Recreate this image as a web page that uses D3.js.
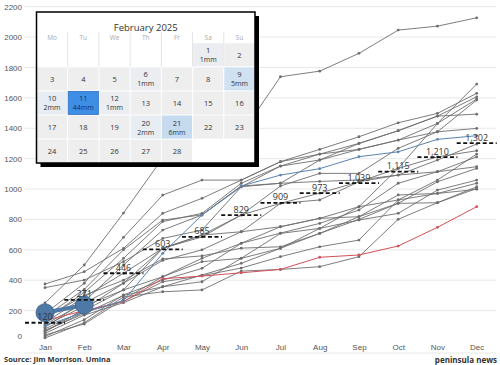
<!DOCTYPE html>
<html>
<head>
<meta charset="utf-8">
<script src="https://cdn.jsdelivr.net/npm/d3@7"></script>
<style>
  body { margin: 0; background: #fff; }
  svg { font-family: "Open Sans", "Noto Sans", sans-serif; }
  .axis text { fill: #555; font-size: 8px; }
</style>
</head>
<body>
<svg id="chart" width="500" height="365"></svg>
<script>
var months = ["Jan","Feb","Mar","Apr","May","Jun","Jul","Aug","Sep","Oct","Nov","Dec"];
var yTicks = [0, 200, 400, 600, 800, 1000, 1200, 1400, 1600, 1800, 2000, 2200];

// past years, cumulative rainfall (mm)
var grayYears = [
  [250, 500, 842, 1204, 1290, 1362, 1739, 1776, 1893, 2046, 2072, 2127],
  [70, 180, 300, 357, 390, 544, 610, 741, 884, 1136, 1432, 1691],
  [375, 456, 610, 840, 939, 1059, 1180, 1261, 1344, 1436, 1498, 1630],
  [140, 320, 544, 786, 840, 1038, 1151, 1230, 1300, 1384, 1480, 1607],
  [90, 260, 500, 730, 829, 1015, 1038, 1191, 1261, 1322, 1432, 1592],
  [60, 210, 380, 610, 697, 829, 1020, 1103, 1103, 1268, 1377, 1586],
  [351, 401, 522, 675, 730, 1015, 1151, 1191, 1300, 1384, 1480, 1493],
  [180, 380, 682, 960, 1059, 1059, 1180, 1230, 1261, 1322, 1377, 1399],
  [120, 290, 446, 610, 697, 719, 906, 928, 1048, 1092, 1191, 1296],
  [100, 230, 336, 610, 685, 829, 906, 973, 1048, 1136, 1212, 1252],
  [40, 112, 274, 423, 544, 643, 752, 807, 884, 928, 1059, 1230],
  [30, 140, 303, 401, 478, 643, 710, 774, 862, 1038, 1114, 1212],
  [160, 340, 600, 796, 830, 1020, 1038, 1050, 1060, 1092, 1114, 1147],
  [110, 250, 381, 530, 600, 719, 752, 807, 818, 906, 1048, 1136],
  [80, 200, 336, 423, 522, 544, 708, 741, 796, 840, 993, 1059],
  [50, 170, 252, 357, 434, 511, 610, 708, 818, 961, 971, 1038],
  [20, 120, 290, 324, 336, 460, 471, 489, 555, 801, 910, 1015],
  [150, 300, 400, 540, 560, 611, 620, 708, 800, 906, 910, 1004],
  [65, 190, 260, 390, 430, 480, 555, 620, 664, 928, 971, 998]
];
var redYear = [135, 200, 260, 410, 427, 449, 471, 551, 566, 625, 748, 884];
var blueYear = [100, 190, 265, 577, 829, 1020, 1092, 1134, 1213, 1245, 1327, 1351];
var thisYear = [186, 237];
var average = [120, 271, 446, 603, 685, 829, 909, 973, 1039, 1115, 1210, 1302];

// February 2025 daily rain
var rainDays = [1, 6, 9, 10, 11, 12, 20, 21];
var rainMm = [1, 1, 5, 2, 44, 1, 2, 6];
var weekDays = ["Mo","Tu","We","Th","Fr","Sa","Su"];

var svg = d3.select("#chart");

var x = d3.scalePoint().domain(months).range([45, 476.7]);
var y = d3.scaleLinear().domain([0, 2200]).range([341, 6.7]);

// grid
svg.append("g").selectAll("line")
    .data(yTicks.filter(function(d) { return d > 0; }))
  .enter().append("line")
    .attr("x1", 24).attr("x2", 496)
    .attr("y1", function(d) { return y(d); })
    .attr("y2", function(d) { return y(d); })
    .attr("stroke", "#e8e8e8");
svg.append("line")
    .attr("x1", 24).attr("x2", 496).attr("y1", 353).attr("y2", 353)
    .attr("stroke", "#e8e8e8");

var yAxis = svg.append("g")
    .attr("class", "axis")
    .attr("transform", "translate(22,0)")
    .call(d3.axisLeft(y).tickValues(yTicks).tickFormat(d3.format("d")).tickSize(0).tickPadding(0));
yAxis.select(".domain").remove();
yAxis.selectAll(".tick").filter(function(d) { return d === 0; })
    .select("text").attr("dy", "-0.3em");

var xAxis = svg.append("g")
    .attr("class", "axis")
    .attr("transform", "translate(0,344)")
    .call(d3.axisBottom(x).tickSize(0).tickPadding(0));
xAxis.select(".domain").remove();

var line = d3.line()
    .x(function(d, i) { return x(months[i]); })
    .y(function(d) { return y(d); });

function drawYear(values, color, width) {
  var g = svg.append("g");
  g.append("path")
      .datum(values)
      .attr("d", line)
      .attr("fill", "none")
      .attr("stroke", color)
      .attr("stroke-width", width);
  g.selectAll("circle")
      .data(values)
    .enter().append("circle")
      .attr("cx", function(d, i) { return x(months[i]); })
      .attr("cy", function(d) { return y(d); })
      .attr("r", 1.4)
      .attr("fill", color);
}

grayYears.forEach(function(v) { drawYear(v, "#6e6e6e", 0.9); });
drawYear(redYear, "#d0525a", 1);
drawYear(blueYear, "#5b84b1", 1);

// 2025 so far
svg.append("path")
    .datum(thisYear)
    .attr("d", line)
    .attr("fill", "none")
    .attr("stroke", "#4e79a7")
    .attr("stroke-width", 4);
svg.selectAll(".big")
    .data(thisYear)
  .enter().append("circle")
    .attr("class", "big")
    .attr("cx", function(d, i) { return x(months[i]); })
    .attr("cy", function(d) { return y(d); })
    .attr("r", 9)
    .attr("fill", "#4e79a7")
    .attr("stroke", "#3a5f88")
    .attr("stroke-width", 0.8);

// monthly averages
var avg = svg.append("g");
avg.selectAll("line")
    .data(average)
  .enter().append("line")
    .attr("x1", function(d, i) { return x(months[i]) - 20; })
    .attr("x2", function(d, i) { return x(months[i]) + 20; })
    .attr("y1", function(d) { return y(d); })
    .attr("y2", function(d) { return y(d); })
    .attr("stroke", "#111")
    .attr("stroke-width", 1.8)
    .attr("stroke-dasharray", "4,2.5");
avg.selectAll("text")
    .data(average)
  .enter().append("text")
    .attr("x", function(d, i) { return x(months[i]); })
    .attr("y", function(d) { return y(d) - 2.5; })
    .attr("text-anchor", "middle")
    .attr("font-size", "9px")
    .attr("fill", "#333")
    .text(function(d) { return d3.format(",")(d); });

// footer
svg.append("text")
    .attr("x", 4).attr("y", 362)
    .attr("font-size", "7.5px").attr("font-weight", "bold").attr("fill", "#333")
    .text("Source: Jim Morrison. Umina");
svg.append("text")
    .attr("x", 497).attr("y", 363)
    .attr("text-anchor", "end")
    .attr("font-size", "8px").attr("font-weight", "bold").attr("fill", "#333")
    .text("peninsula news");

// calendar
var cal = svg.append("g");
var calX = 36.5, calY = 12, calW = 218.5, calH = 151;
var colW = calW / 7, headTop = 32, rowTop = 42.7, rowH = 24.1;

cal.append("rect")
    .attr("x", calX + 4).attr("y", calY + 4)
    .attr("width", calW).attr("height", calH)
    .attr("fill", "#000");
cal.append("rect")
    .attr("x", calX).attr("y", calY)
    .attr("width", calW).attr("height", calH)
    .attr("fill", "#fff");

cal.append("text")
    .attr("x", calX + calW / 2).attr("y", 31)
    .attr("text-anchor", "middle")
    .attr("font-size", "9.5px").attr("fill", "#333")
    .text("February 2025");

cal.selectAll(".sep")
    .data(d3.range(1, 7))
  .enter().append("line")
    .attr("x1", function(d) { return calX + d * colW; })
    .attr("x2", function(d) { return calX + d * colW; })
    .attr("y1", headTop).attr("y2", rowTop + rowH)
    .attr("stroke", "#e4e4e4");

cal.selectAll(".wd")
    .data(weekDays)
  .enter().append("text")
    .attr("x", function(d, i) { return calX + (i + 0.5) * colW; })
    .attr("y", 40)
    .attr("text-anchor", "middle")
    .attr("font-size", "6.5px").attr("fill", "#aaa")
    .text(function(d) { return d; });

var rainColor = d3.scaleLinear()
    .domain([0, 3, 6, 44])
    .range(["#eeeeee", "#e4ecf5", "#c6dbf0", "#3f8ee6"]);

var firstDow = (new Date(2025, 1, 1).getDay() + 6) % 7;
var days = d3.range(1, 29).map(function(d) {
  var k = rainDays.indexOf(d);
  var idx = firstDow + d - 1;
  return { day: d, mm: k >= 0 ? rainMm[k] : 0, col: idx % 7, row: Math.floor(idx / 7) };
});

var cells = cal.selectAll(".day")
    .data(days)
  .enter().append("g")
    .attr("transform", function(d) {
      return "translate(" + (calX + d.col * colW) + "," + (rowTop + d.row * rowH) + ")";
    });
cells.append("rect")
    .attr("x", 0.5).attr("y", 0.5)
    .attr("width", colW - 1).attr("height", rowH - 1)
    .attr("fill", function(d) { return rainColor(d.mm); })
    .attr("stroke", function(d) { return d.mm > 20 ? "#2e72c4" : "none"; })
    .attr("stroke-width", 0.8);
cells.append("text")
    .attr("x", colW / 2)
    .attr("y", function(d) { return d.mm ? rowH / 2 - 1.5 : rowH / 2 + 3; })
    .attr("text-anchor", "middle")
    .attr("font-size", "7.5px").attr("fill", function(d) { return d.mm > 20 ? "#13305e" : "#333"; })
    .text(function(d) { return d.day; });
cells.filter(function(d) { return d.mm; }).append("text")
    .attr("x", colW / 2)
    .attr("y", rowH / 2 + 7.5)
    .attr("text-anchor", "middle")
    .attr("font-size", "7px").attr("fill", function(d) { return d.mm > 20 ? "#13305e" : "#333"; })
    .text(function(d) { return d.mm + "mm"; });

cal.append("rect")
    .attr("x", calX).attr("y", calY)
    .attr("width", calW).attr("height", calH)
    .attr("fill", "none")
    .attr("stroke", "#000")
    .attr("stroke-width", 1.5);
</script>
</body>
</html>
